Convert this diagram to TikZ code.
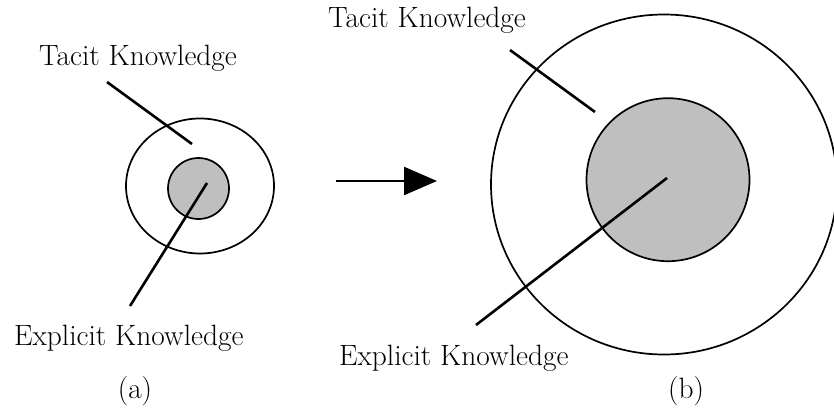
\documentclass[tikz,border=0pt]{standalone}
\usetikzlibrary{arrows.meta}
\tikzset{
  ring/.style={draw=black, line width=1.7pt},
  core/.style={draw=black, fill=black!25, line width=1.7pt},
  leader/.style={draw=black, line width=2.6pt},
  lbl/.style={inner sep=0pt, font=\fontsize{29.4}{33}\selectfont},
  flow/.style={draw=black, line width=2.4pt, -{Triangle[length=33pt,width=28pt]}}
}
\begin{document}
\begin{tikzpicture}[x=1pt, y=-1pt]
  \useasboundingbox (0,0) rectangle (834,412);

  % (a) small knowledge base
  \draw[ring] (200,186) ellipse [x radius=74pt, y radius=67.5pt];
  \draw[core] (198.5,188.5) circle [radius=30.5pt];
  \node[lbl, anchor=base west] (tacitA) at (39,65) {Tacit Knowledge};
  \node[lbl, anchor=base west] (explA) at (14,345) {Explicit Knowledge};
  \node[lbl, anchor=base] (capA) at (135,398) {(a)};
  \coordinate (tA1) at (107,82);
  \coordinate (tA2) at (192,144);
  \coordinate (eA1) at (207,183);
  \coordinate (eA2) at (130,306);
  \draw[leader] (tA1) -- (tA2);
  \draw[leader] (eA1) -- (eA2);

  % growth arrow
  \coordinate (arrS) at (336,181);
  \coordinate (arrE) at (437,181);
  \draw[flow] (arrS) -- (arrE);

  % (b) large knowledge base
  \draw[ring] (664,184.5) ellipse [x radius=173pt, y radius=170pt];
  \draw[core] (668,179.7) circle [radius=81.5pt];
  \node[lbl, anchor=base west] (tacitB) at (328,28) {Tacit Knowledge};
  \node[lbl, anchor=base west] (explB) at (339,365) {Explicit Knowledge};
  \node[lbl, anchor=base] (capB) at (686,398) {(b)};
  \coordinate (tB1) at (510,50);
  \coordinate (tB2) at (595,112);
  \coordinate (eB1) at (667,178);
  \coordinate (eB2) at (476,325);
  \draw[leader] (tB1) -- (tB2);
  \draw[leader] (eB1) -- (eB2);
\end{tikzpicture}
\end{document}
